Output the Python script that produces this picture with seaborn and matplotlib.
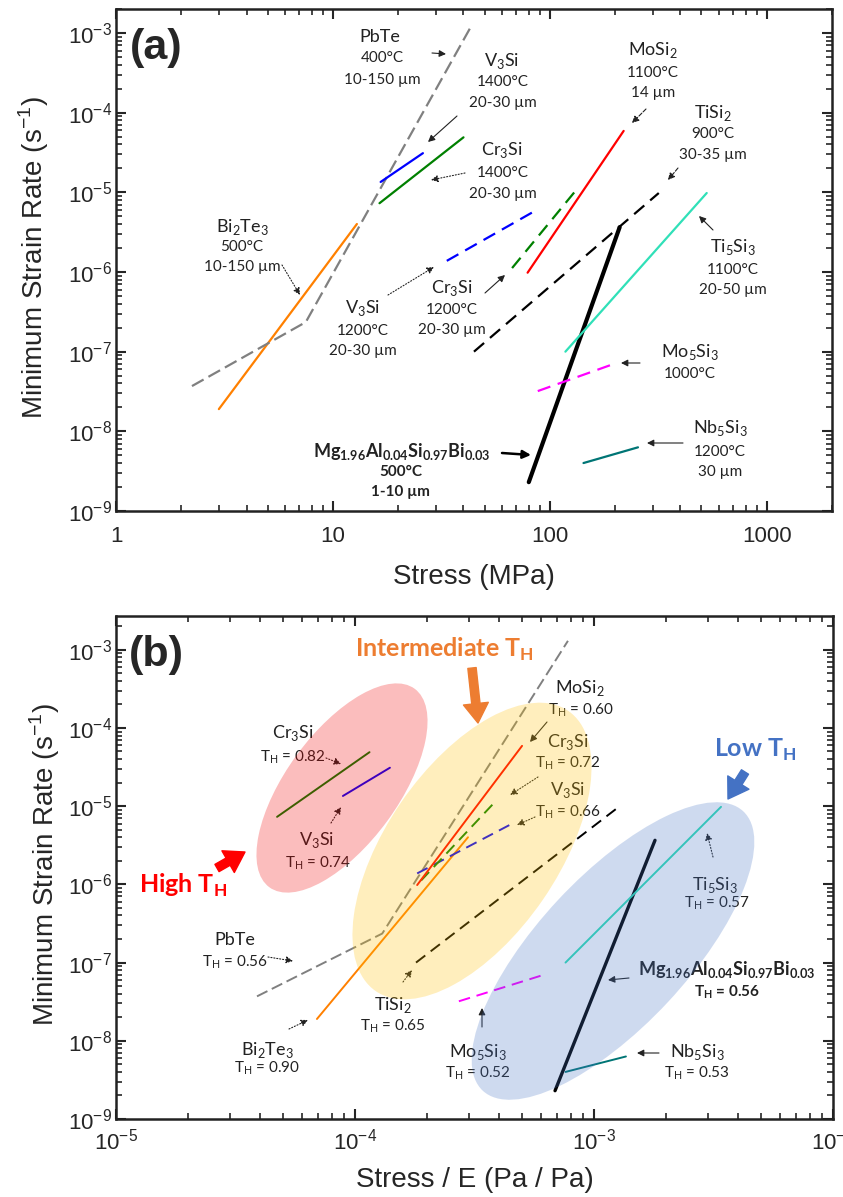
import matplotlib
matplotlib.use("Agg")
import matplotlib.pyplot as plt
from matplotlib.patches import Ellipse
from matplotlib.transforms import Affine2D
from matplotlib.ticker import LogLocator, FuncFormatter, NullFormatter
import numpy as np
import pandas as pd
import seaborn as sns

sns.set_style("ticks")
plt.rcParams.update({'font.family'      : ['Liberation Sans', 'DejaVu Sans'],
                     'mathtext.fontset' : 'custom',
                     'mathtext.rm'      : 'Liberation Sans',
                     'mathtext.bf'      : 'Liberation Sans:bold',
                     'axes.linewidth'   : 1.8,
                     'axes.edgecolor'   : '#222222',
                     'xtick.labelsize'  : 16,
                     'ytick.labelsize'  : 16})

#-- data: endpoints of each creep line --
materials   = ["Bi2Te3", "PbTe", "V3Si_1400", "Cr3Si_1400", "V3Si_1200", "Cr3Si_1200",
               "MoSi2", "TiSi2", "Mg2Si", "Ti5Si3", "Mo5Si3", "Nb5Si3"]
stress_mpa  = [[2.98, 12.9], [2.24, 7.5, 44.0], [16.6, 26.0], [16.4, 40.0], [33.5, 85.0],
               [67.0, 136.0], [79.0, 219.0], [44.7, 318.0], [80.0, 210.0], [118.0, 529.0],
               [88.0, 191.0], [143.0, 255.0]]
stress_norm = [[6.93e-5, 2.97e-4], [3.89e-5, 1.30e-4, 7.78e-4], [8.9e-5, 1.4e-4],
               [4.72e-5, 1.15e-4], [1.82e-4, 4.46e-4], [1.89e-4, 3.89e-4], [1.82e-4, 5.0e-4],
               [1.8e-4, 1.27e-3], [6.87e-4, 1.8e-3], [7.6e-4, 3.4e-3], [2.72e-4, 6.0e-4],
               [7.6e-4, 1.36e-3]]
strain_rate = [[1.9e-8, 4.0e-6], [3.7e-8, 2.35e-7, 1.3e-3], [1.35e-5, 3.1e-5],
               [7.3e-6, 4.9e-5], [1.38e-6, 5.8e-6], [1.12e-6, 1.17e-5], [9.8e-7, 5.9e-5],
               [1.0e-7, 9.8e-6], [2.3e-9, 3.66e-6], [1.0e-7, 9.8e-6], [3.2e-8, 6.8e-8],
               [4.0e-9, 6.3e-9]]

rows = []
for name, xa, xb, ys in zip(materials, stress_mpa, stress_norm, strain_rate):
    for k in range(len(ys)):
        rows.append({'material': name, 'order': k, 'stress': xa[k], 'norm': xb[k], 'rate': ys[k]})
df = pd.DataFrame(rows)

DASH = (0, (6, 3.5))
style = {"Bi2Te3"    : ('#ff8000', '-'),  "PbTe"       : ('#808080', (0, (6, 2.5))),
         "V3Si_1400" : ('#0000ff', '-'),  "Cr3Si_1400" : ('#008000', '-'),
         "V3Si_1200" : ('#0000ff', DASH), "Cr3Si_1200" : ('#008000', DASH),
         "MoSi2"     : ('#ff0000', '-'),  "TiSi2"      : ('#000000', DASH),
         "Mg2Si"     : ('#000000', '-'),  "Ti5Si3"     : ('#30e0b8', '-'),
         "Mo5Si3"    : ('#ff00ff', DASH), "Nb5Si3"     : ('#007575', '-')}

W, H = 843, 1197
BOX_A = (116, 9, 832, 511)      # left, top, right, bottom in reference pixels
BOX_B = (116, 616, 833, 1119)

def frac(box, px, py):
    l, t, r, b = box
    return ((px - l) / (r - l), (b - py) / (b - t))

def S(s):
    return r"$_\mathregular{" + str(s) + "}$"

def add_axes(box):
    l, t, r, b = box
    return fig.add_axes([l / W, 1 - b / H, (r - l) / W, (b - t) / H])

fig = plt.figure(figsize=(W / 100, H / 100), dpi=100)
axA = add_axes(BOX_A)
axB = add_axes(BOX_B)

for ax, xcol, lw, lwthick in [(axA, 'stress', 1.6, 3.0), (axB, 'norm', 1.4, 2.4)]:
    for name in materials:
        sub = df[df['material'] == name]
        col, ls = style[name]
        sns.lineplot(data=sub, x=xcol, y='rate', ax=ax, color=col, linestyle=ls,
                     lw=lwthick if name == "Mg2Si" else lw, estimator=None, sort=False)
    ax.set_xscale('log')
    ax.set_yscale('log')
    ax.set_ylim(1e-9, 2e-3 if ax is axA else 2.7e-3)
    ax.yaxis.set_major_locator(LogLocator(base=10, numticks=20))
    ax.yaxis.set_minor_locator(LogLocator(base=10, subs=np.arange(2, 10), numticks=20))
    ax.yaxis.set_minor_formatter(NullFormatter())
    ax.yaxis.set_major_formatter(FuncFormatter(lambda v, p: r"10$^{\mathregular{%d}}$" % round(np.log10(v))))
    ax.xaxis.set_minor_locator(LogLocator(base=10, subs=np.arange(2, 10), numticks=20))
    ax.xaxis.set_minor_formatter(NullFormatter())
    ax.tick_params(which='major', direction='in', length=7, width=1.5, top=True, right=True)
    ax.tick_params(which='minor', direction='in', length=4, width=1.2, top=True, right=True)
    ax.tick_params(axis='y', pad=3)
    ax.set_ylabel(r"Minimum Strain Rate (s$^{\mathregular{-1}}$)", fontsize=20, va='center', ha='center')

axA.set_xlim(1, 2000)
axA.xaxis.set_major_formatter(FuncFormatter(lambda v, p: "%d" % round(v)))
axA.tick_params(axis='x', pad=11)
axA.set_xlabel("Stress (MPa)", fontsize=20, va='center')
axA.xaxis.set_label_coords(0.5, -0.131)
axA.yaxis.set_label_coords(-0.115, 0.504)

axB.set_xlim(1e-5, 1e-2)
axB.xaxis.set_major_formatter(FuncFormatter(lambda v, p: r"10$^{\mathregular{%d}}$" % round(np.log10(v))))
axB.tick_params(axis='x', pad=7)
axB.set_xlabel("Stress / E (Pa / Pa)", fontsize=20, va='center')
axB.xaxis.set_label_coords(0.5, -0.121)
axB.yaxis.set_label_coords(-0.099, 0.505)

for ax, box, lab, py in [(axA, BOX_A, "(a)", 48), (axB, BOX_B, "(b)", 655)]:
    ax.text(*frac(box, 156, py), lab, transform=ax.transAxes, fontsize=31,
            fontweight='bold', ha='center', va='center')

#-- annotation text (Calibri-like look) --
TXT = dict(family=['Lato', 'DejaVu Sans'], ha='center', va='center', color='#222222')
MG = "Mg" + S("1.96") + "Al" + S("0.04") + "Si" + S("0.97") + "Bi" + S("0.03")
labels_a = [("PbTe", 380, 37, 13), ("400°C", 382, 58, 11), ("10-150 µm", 382, 80, 11),
            ("V" + S(3) + "Si", 502, 61, 13), ("1400°C", 503, 82, 11), ("20-30 µm", 503, 103, 11),
            ("Cr" + S(3) + "Si", 502, 150, 13), ("1400°C", 503, 173, 11), ("20-30 µm", 503, 194, 11),
            ("MoSi" + S(2), 653, 50, 13), ("1100°C", 653, 73, 11), ("14 µm", 653, 93, 11),
            ("TiSi" + S(2), 713, 113, 13), ("900°C", 713, 134, 11), ("30-35 µm", 713, 155, 11),
            ("Ti" + S(5) + "Si" + S(3), 733, 247, 13), ("1100°C", 733, 270, 11), ("20-50 µm", 733, 290, 11),
            ("Bi" + S(2) + "Te" + S(3), 242, 227, 13), ("500°C", 242, 247, 11), ("10-150 µm", 242, 267, 11),
            ("V" + S(3) + "Si", 363, 308, 13), ("1200°C", 363, 331, 11), ("20-30 µm", 363, 351, 11),
            ("Cr" + S(3) + "Si", 452, 288, 13), ("1200°C", 452, 310, 11), ("20-30 µm", 452, 330, 11),
            ("Mo" + S(5) + "Si" + S(3), 690, 352, 13), ("1000°C", 690, 374, 11),
            ("Nb" + S(5) + "Si" + S(3), 720, 428, 13), ("1200°C", 720, 452, 11), ("30 µm", 720, 472, 11)]
bold_a = [(MG, 402, 452, 13), ("500°C", 401, 472, 11), ("1-10 µm", 400, 492, 11)]

TH = "T" + S("H")
labels_b = [("Cr" + S(3) + "Si", 293, 733, 13), (TH + " = 0.82", 293, 757, 11),
            ("V" + S(3) + "Si", 317, 840, 13), (TH + " = 0.74", 318, 863, 11),
            ("MoSi" + S(2), 580, 688, 13), (TH + " = 0.60", 581, 710, 11),
            ("Cr" + S(3) + "Si", 568, 742, 13), (TH + " = 0.72", 568, 763, 11),
            ("V" + S(3) + "Si", 568, 790, 13), (TH + " = 0.66", 568, 812, 11),
            ("Ti" + S(5) + "Si" + S(3), 715, 885, 13), (TH + " = 0.57", 717, 903, 11),
            ("Mo" + S(5) + "Si" + S(3), 478, 1052, 13), (TH + " = 0.52", 478, 1073, 11),
            ("Nb" + S(5) + "Si" + S(3), 697, 1052, 13), (TH + " = 0.53", 697, 1073, 11),
            ("PbTe", 235, 940, 13), (TH + " = 0.56", 235, 962, 11),
            ("Bi" + S(2) + "Te" + S(3), 267, 1050, 13), (TH + " = 0.90", 267, 1068, 11),
            ("TiSi" + S(2), 393, 1005, 13), (TH + " = 0.65", 393, 1026, 11)]
bold_b = [(MG, 727, 970, 13), (TH + " = 0.56", 727, 992, 11)]
groups_b = [("Intermediate " + TH, 444, 649, '#ed7d31'), ("High " + TH, 183, 885, '#ff0000'),
            ("Low " + TH, 755, 750, '#4472c4')]

for ax, box, labs, bolds in [(axA, BOX_A, labels_a, bold_a), (axB, BOX_B, labels_b, bold_b)]:
    for s, px, py, fs in labs:
        ax.text(*frac(box, px, py), s, transform=ax.transAxes, fontsize=fs, **TXT)
    for s, px, py, fs in bolds:
        ax.text(*frac(box, px, py), s, transform=ax.transAxes, fontsize=fs, fontweight='bold', **TXT)
for s, px, py, col in groups_b:
    axB.text(*frac(BOX_B, px, py), s, transform=axB.transAxes, fontsize=18, fontweight='bold',
             family=['Lato', 'DejaVu Sans'], ha='center', va='center', color=col)

#-- small pointer arrows: (tail x, tail y, head x, head y, linestyle) --
arrows_a = [(432, 53, 446, 54, '-'), (457, 116, 428, 142, '-'), (465, 173, 431, 180, ':'),
            (646, 109, 632, 123, '--'), (678, 168, 668, 180, '--'), (713, 230, 699, 216, '-'),
            (282, 265, 300, 295, ':'), (388, 295, 434, 267, ':'), (485, 293, 505, 275, '-'),
            (640, 363, 621, 363, '-'), (683, 443, 647, 443, '-')]
arrows_b = [(326, 758, 341, 764, ':'), (331, 823, 341, 807, ':'), (547, 722, 530, 742, '-'),
            (538, 777, 510, 795, ':'), (535, 817, 517, 825, ':'), (713, 857, 707, 833, ':'),
            (629, 978, 608, 980, '-'), (482, 1027, 482, 1008, '-'), (659, 1053, 637, 1053, '-'),
            (268, 957, 293, 961, ':'), (289, 1029, 308, 1020, ':'), (403, 982, 412, 970, ':')]
for ax, box, arrs in [(axA, BOX_A, arrows_a), (axB, BOX_B, arrows_b)]:
    for x0, y0, x1, y1, ls in arrs:
        ax.annotate("", xy=frac(box, x1, y1), xytext=frac(box, x0, y0), xycoords='axes fraction',
                    arrowprops=dict(arrowstyle='-|>', lw=0.8, ls=ls, color='#222222',
                                    mutation_scale=10, shrinkA=0, shrinkB=0))
axA.annotate("", xy=frac(BOX_A, 531, 455), xytext=frac(BOX_A, 502, 453), xycoords='axes fraction',
             arrowprops=dict(arrowstyle='-|>', lw=1.8, color='black', mutation_scale=12,
                             shrinkA=0, shrinkB=0))

big = [(472, 668, 478, 723, '#ed7d31'), (217, 868, 245, 852, '#ff0000'), (745, 772, 728, 799, '#4472c4')]
for x0, y0, x1, y1, col in big:
    axB.annotate("", xy=frac(BOX_B, x1, y1), xytext=frac(BOX_B, x0, y0), xycoords='axes fraction',
                 arrowprops=dict(arrowstyle='simple,head_length=0.7,head_width=0.9,tail_width=0.3',
                                 color=col, mutation_scale=20, shrinkA=0, shrinkB=0))

#-- translucent group ellipses, in reference-pixel units --
l, t, r, b = BOX_B
px_trans = Affine2D().scale(1 / (r - l), 1 / (b - t)) + axB.transAxes
ellipses = [(342, 788, 123, 56, 53.8, '#f00000'), (472, 851, 170, 86, 55.5, '#ffc000'),
            (613, 951, 191, 75, 47.0, '#4472c4')]
for cx, cy, a, bb, ang, col in ellipses:
    axB.add_patch(Ellipse((cx - l, b - cy), 2 * a, 2 * bb, angle=ang, transform=px_trans,
                          facecolor=col, edgecolor='none', alpha=0.26, zorder=5))

plt.savefig('out.png', dpi=100)
